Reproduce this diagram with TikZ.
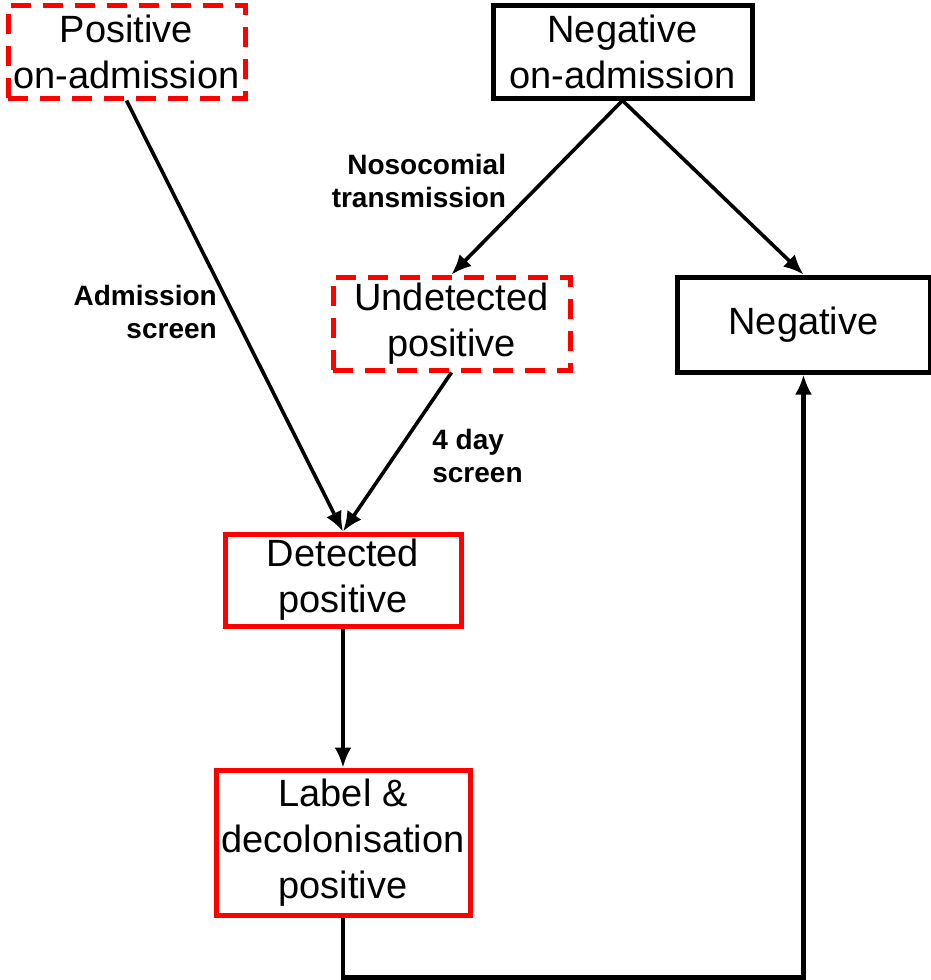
\documentclass[tikz,border=0pt]{standalone}
\usepackage{fontspec}
\setmainfont{Liberation Sans}
\usetikzlibrary{arrows.meta,positioning}
\tikzset{>={Latex[length=10pt,width=8.5pt]}}

\begin{document}
\begin{tikzpicture}[
redbox/.style={rectangle, align=center, draw=red, line width=2.5pt, minimum width=118.5pt, minimum height=46.5pt, inner sep=0pt, font=\fontsize{19}{23}\selectfont},
dashedbox/.style={redbox, dash pattern=on 10pt off 6pt},
blackbox/.style={redbox, draw=black},
steplabel/.style={inner sep=0pt, font=\bfseries\fontsize{14}{16.5}\selectfont},
connector/.style={->, line width=1.8pt},
]
\useasboundingbox (0,0) rectangle (465.5pt,-490pt);
%Nodes
\node[dashedbox](Positive Admission) at (63.25pt,-25.75pt){Positive \\ on-admission};
\node[blackbox, minimum width=129.5pt](Negative Admission)[on grid, right=248pt of Positive Admission]{Negative \\ on-admission};
\node[dashedbox](Undetected Positive)[on grid, below left=136pt and 85.5pt of Negative Admission]{Undetected \\ positive};
\node[blackbox, minimum width=126.5pt, minimum height=47.5pt](Negative)[on grid, below right=136.5pt and 90.5pt of Negative Admission]{Negative};
\node[redbox, minimum width=118pt, minimum height=46pt](Detected Positive)[on grid, below left=128.25pt and 54.25pt of Undetected Positive]{Detected \\ positive};
\node[redbox, minimum width=127pt, minimum height=72.5pt](Label Positive)[on grid, below=131.25pt of Detected Positive]{Label \& \\ decolonisation \\ positive};

%Lines
\draw[connector] (Positive Admission.south) -- node[steplabel, pos=0.49, left=7pt, align=right] {Admission \\ screen} (Detected Positive.north);
\draw[connector] (Negative Admission.south) -- node[steplabel, pos=0.46, left=18pt, align=right] {Nosocomial \\ transmission} (Undetected Positive.north);
\draw[connector] (Negative Admission.south) -- (Negative.north);
\draw[connector] (Undetected Positive.south) -- node[steplabel, pos=0.525, right=18pt, align=left] {4 day \\ screen} (Detected Positive.north);
\draw[connector] (Detected Positive.south) -- (Label Positive.north);
\draw[connector, line width=2.2pt] (Label Positive.south) -- ++(0,-30pt) -| (Negative.south);
\end{tikzpicture}
\end{document}
